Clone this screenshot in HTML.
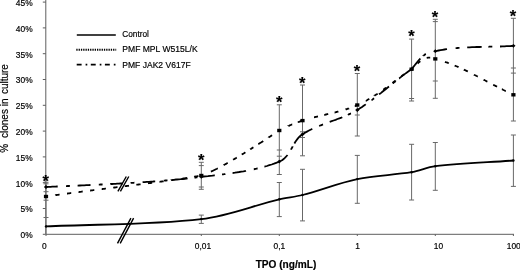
<!DOCTYPE html><html><head><meta charset="utf-8"><title>TPO chart</title><style>text{stroke:#000;stroke-width:.18px}html,body{margin:0;padding:0;background:#fff}body{width:520px;height:270px;position:relative;overflow:hidden}</style></head><body>
<svg width="520" height="270" viewBox="0 0 520 270" style="position:absolute;left:0;top:0;font-family:'Liberation Sans',sans-serif">
<rect width="520" height="270" fill="#fff"/>
<g stroke="#5e5e5e" stroke-width="1" fill="none">
<path d="M45.8 0V234.3"/>
<path d="M45.8 234.3H514"/>
<path d="M42.8 234.3H45.8"/>
<path d="M42.8 208.5H45.8"/>
<path d="M42.8 182.7H45.8"/>
<path d="M42.8 156.9H45.8"/>
<path d="M42.8 131.1H45.8"/>
<path d="M42.8 105.3H45.8"/>
<path d="M42.8 79.5H45.8"/>
<path d="M42.8 53.7H45.8"/>
<path d="M42.8 27.9H45.8"/>
<path d="M42.8 2.1H45.8"/>
<path d="M46.0 234.3v1.7"/>
<path d="M201.3 234.3v1.7"/>
<path d="M279.3 234.3v1.7"/>
<path d="M357.3 234.3v1.7"/>
<path d="M435.3 234.3v1.7"/>
<path d="M513.4 234.3v1.7"/>
</g>
<text x="32.6" y="238.2" font-size="8.4" text-anchor="end" fill="#000">0%</text>
<text x="32.6" y="212.4" font-size="8.4" text-anchor="end" fill="#000">5%</text>
<text x="32.6" y="186.6" font-size="8.4" text-anchor="end" fill="#000">10%</text>
<text x="32.6" y="160.8" font-size="8.4" text-anchor="end" fill="#000">15%</text>
<text x="32.6" y="135.0" font-size="8.4" text-anchor="end" fill="#000">20%</text>
<text x="32.6" y="109.2" font-size="8.4" text-anchor="end" fill="#000">25%</text>
<text x="32.6" y="83.4" font-size="8.4" text-anchor="end" fill="#000">30%</text>
<text x="32.6" y="57.6" font-size="8.4" text-anchor="end" fill="#000">35%</text>
<text x="32.6" y="31.8" font-size="8.4" text-anchor="end" fill="#000">40%</text>
<text x="32.6" y="6.0" font-size="8.4" text-anchor="end" fill="#000">45%</text>
<text x="44.3" y="249.2" font-size="8.4" text-anchor="middle" fill="#000">0</text>
<text x="203" y="249.2" font-size="8.4" text-anchor="middle" fill="#000">0,01</text>
<text x="279.3" y="249.2" font-size="8.4" text-anchor="middle" fill="#000">0,1</text>
<text x="357.5" y="249.2" font-size="8.4" text-anchor="middle" fill="#000">1</text>
<text x="438.5" y="249.2" font-size="8.4" text-anchor="middle" fill="#000">10</text>
<text x="513.8" y="249.2" font-size="8.4" text-anchor="middle" fill="#000">100</text>
<text x="286" y="267.7" font-size="10.2" font-weight="bold" textLength="60.6" lengthAdjust="spacingAndGlyphs" text-anchor="middle" fill="#000">TPO (ng/mL)</text>
<text transform="translate(7.8 108.35) rotate(-90) scale(1,1.09)" font-size="10" word-spacing="1.7" text-anchor="middle" fill="#000">% <tspan dx="1.3">clones</tspan><tspan dx="-1.6"> in</tspan> culture</text>
<g stroke="#686868" stroke-width="1" fill="none">
<path d="M46 182.3V234"/>
<path d="M43.5 182.3H48.5"/>
<path d="M43.5 183.8H48.5"/>
<path d="M43.5 191.7H48.5"/>
<path d="M43.5 200.2H48.5"/>
<path d="M43.5 217.5H48.5"/>
<path d="M201.3 162.3V189.3"/>
<path d="M198.8 162.3H203.8"/>
<path d="M198.8 165.6H203.8"/>
<path d="M198.8 187H203.8"/>
<path d="M198.8 189.3H203.8"/>
<path d="M201.3 215.1V223.4"/>
<path d="M198.8 215.1H203.8"/>
<path d="M198.8 223.4H203.8"/>
<path d="M279.3 104.8V174.5"/>
<path d="M276.8 104.8H281.8"/>
<path d="M276.8 150H281.8"/>
<path d="M276.8 156.2H281.8"/>
<path d="M276.8 174.5H281.8"/>
<path d="M279.3 182.5V216.6"/>
<path d="M276.8 182.5H281.8"/>
<path d="M276.8 216.6H281.8"/>
<path d="M302.5 85V155.8"/>
<path d="M300.0 85H305.0"/>
<path d="M300.0 131.8H305.0"/>
<path d="M300.0 137.5H305.0"/>
<path d="M300.0 155.8H305.0"/>
<path d="M302.5 169.3V220.9"/>
<path d="M300.0 169.3H305.0"/>
<path d="M300.0 220.9H305.0"/>
<path d="M357.3 73.5V136"/>
<path d="M354.8 73.5H359.8"/>
<path d="M354.8 115H359.8"/>
<path d="M354.8 136H359.8"/>
<path d="M357.3 155.4V203.3"/>
<path d="M354.8 155.4H359.8"/>
<path d="M354.8 203.3H359.8"/>
<path d="M411.6 39.1V101"/>
<path d="M409.1 39.1H414.1"/>
<path d="M409.1 98.5H414.1"/>
<path d="M409.1 101H414.1"/>
<path d="M411.6 144.3V200"/>
<path d="M409.1 144.3H414.1"/>
<path d="M409.1 200H414.1"/>
<path d="M435.3 19.3V98.3"/>
<path d="M432.8 19.3H437.8"/>
<path d="M432.8 21.6H437.8"/>
<path d="M432.8 81H437.8"/>
<path d="M432.8 98.3H437.8"/>
<path d="M435.3 142.5V190.3"/>
<path d="M432.8 142.5H437.8"/>
<path d="M432.8 190.3H437.8"/>
<path d="M513.4 18.3V121"/>
<path d="M510.9 18.3H515.9"/>
<path d="M510.9 68H515.9"/>
<path d="M510.9 73.1H515.9"/>
<path d="M510.9 121H515.9"/>
<path d="M513.4 135V186.4"/>
<path d="M510.9 135H515.9"/>
<path d="M510.9 186.4H515.9"/>
</g>
<path d="M46.00 226.40 C97.77 223.97 150.60 224.99 201.30 219.10 C228.37 215.96 253.13 205.53 279.30 199.30 C286.86 197.50 295.02 196.94 302.50 195.00 C321.02 190.20 338.44 183.04 357.30 179.10 C374.81 175.44 393.76 175.15 411.60 172.20 C419.76 170.85 427.05 167.15 435.30 166.20 C460.98 163.25 487.37 162.40 513.40 160.50" fill="none" stroke="#000" stroke-width="1.8"/>
<path d="M55.4 195.2L55.5 195.1L56.1 195.1L56.6 195.0L57.2 194.9L57.7 194.8L58.3 194.8L58.8 194.7L59.4 194.6L59.6 194.6 M67.0 193.6L67.2 193.6L67.7 193.5L68.3 193.4L68.9 193.3L69.4 193.3L70.0 193.2L70.6 193.1L71.1 193.0L71.2 193.0 M78.5 192.1L78.6 192.1L79.2 192.0L79.7 191.9L80.3 191.8L80.9 191.8L81.5 191.7L82.1 191.6L82.6 191.5L82.7 191.5 M90.1 190.6L90.2 190.6L90.8 190.5L91.4 190.4L92.0 190.3L92.6 190.3L93.2 190.2L93.8 190.1L94.3 190.1 M101.7 189.1L102.0 189.1L102.6 189.0L103.2 188.9L103.8 188.9L104.4 188.8L105.0 188.7L105.6 188.6L105.9 188.6 M113.2 187.7L113.8 187.6L114.4 187.5L115.0 187.5L115.6 187.4L116.2 187.3L116.7 187.2L117.3 187.2L117.5 187.2 M124.8 186.2L124.9 186.2L125.5 186.2L126.1 186.1L126.6 186.0L127.2 185.9L127.8 185.9L128.4 185.8L129.0 185.7L129.0 185.7 M136.4 184.8L136.9 184.7L137.5 184.6L138.1 184.6L138.6 184.5L139.2 184.4L139.8 184.4L140.3 184.3L140.6 184.3 M148.0 183.3L148.0 183.3L148.6 183.2L149.1 183.2L149.7 183.1L150.2 183.0L150.8 183.0L151.3 182.9L151.8 182.8L152.2 182.8 M159.5 181.8L159.7 181.8L160.2 181.7L160.8 181.7L161.3 181.6L161.8 181.5L162.3 181.4L162.8 181.4L163.3 181.3L163.7 181.3 M171.1 180.3L171.2 180.2L171.7 180.2L172.1 180.1L172.6 180.0L173.1 180.0L173.6 179.9L174.0 179.8L174.5 179.8L175.0 179.7L175.3 179.7 M182.7 178.6L183.0 178.5L183.4 178.5L183.8 178.4L184.2 178.4L184.7 178.3L185.1 178.2L185.5 178.2L185.9 178.1L186.3 178.0L186.7 178.0L186.9 178.0 M194.2 176.8L194.4 176.7L195.1 176.6L195.8 176.5L196.5 176.4L197.2 176.3L197.8 176.1L198.4 176.0 M210.9 171.6L210.9 171.6L211.9 171.2L212.9 170.7L213.9 170.2L214.9 169.7L215.9 169.2L217.0 168.7L217.8 168.3 M223.6 165.2L223.7 165.1L224.3 164.8L224.8 164.5L225.4 164.2L226.0 163.9L226.5 163.5L227.1 163.2L227.7 162.9L227.7 162.9 M233.1 159.8L233.4 159.6L233.9 159.3L234.5 158.9L235.1 158.6L235.7 158.3L236.2 157.9L236.8 157.6 M241.7 154.6L241.7 154.6L242.3 154.2L242.9 153.9L243.5 153.5L244.1 153.2L244.6 152.8L245.2 152.5L245.4 152.3 M250.2 149.4L250.4 149.2L250.7 149.1L251.0 148.9L251.2 148.7L251.5 148.5L251.8 148.3L252.1 148.2L252.4 148.0L252.7 147.8L252.9 147.6L253.2 147.4L253.4 147.3 M258.3 144.2L258.5 144.1L259.3 143.5L260.1 143.0L261.0 142.5L261.8 142.0L262.6 141.5L263.2 141.0 M268.7 137.5L268.7 137.4L269.2 137.1L269.7 136.8L270.2 136.5L270.7 136.2L271.1 135.8L271.6 135.5L272.1 135.2L272.1 135.2 M288.3 126.1L288.3 126.0L289.0 125.8L289.6 125.5L290.2 125.2L290.8 125.0L291.4 124.7L292.1 124.4L292.2 124.4 M297.8 122.2L297.9 122.2L298.4 122.0L299.0 121.8L299.6 121.6L300.1 121.4L300.7 121.2L301.3 121.0L301.4 121.0 M314.0 117.3L314.1 117.3L314.6 117.2L315.2 117.0L315.8 116.9L316.3 116.8L316.9 116.6L317.5 116.5L318.0 116.4 M324.2 114.9L324.3 114.9L324.9 114.8L325.4 114.6L326.0 114.5L326.6 114.4L327.1 114.2L327.7 114.1L328.2 114.0 M334.6 112.5L334.7 112.5L335.3 112.3L335.8 112.2L336.4 112.0L337.0 111.9L337.5 111.7L338.1 111.6L338.4 111.5 M345.6 109.5L345.7 109.4L346.3 109.3L346.8 109.1L347.3 108.9L347.9 108.7L348.4 108.6L348.9 108.4L349.0 108.3 M354.8 106.1L354.9 106.1L355.2 106.0L355.5 105.8L355.8 105.7L356.2 105.5L356.5 105.4L356.8 105.2L357.1 105.1L357.3 105.0 M365.8 100.8L365.9 100.8L366.5 100.5L367.0 100.2L367.6 99.8L368.1 99.5L368.7 99.2L369.3 98.9L369.3 98.9 M374.5 95.7L374.5 95.6L375.1 95.3L375.6 94.9L376.2 94.6L376.7 94.2L377.2 93.9L377.6 93.6 M383.2 89.7L383.4 89.6L383.7 89.4L384.1 89.1L384.4 88.9L384.8 88.6L385.1 88.4L385.5 88.1L385.8 87.9L386.2 87.6L386.2 87.6 M392.4 83.0L392.6 82.9L392.9 82.6L393.3 82.3L393.6 82.1L394.0 81.8L394.3 81.6L394.7 81.3L395.0 81.0L395.4 80.8L395.4 80.7 M401.3 76.4L401.3 76.4L401.7 76.1L402.1 75.8L402.4 75.6L402.8 75.3L403.1 75.1L403.5 74.8L403.9 74.5L404.2 74.3 M417.6 63.5L417.6 63.5L418.1 63.1L418.5 62.7L418.9 62.3L419.4 62.0L419.8 61.6L420.2 61.3L420.4 61.2 M426.7 57.9L426.7 57.9L427.3 57.8L427.8 57.7L428.4 57.6L429.0 57.6L429.6 57.6L430.2 57.6L430.2 57.6 M445.0 61.8L445.2 61.9L445.7 62.1L446.3 62.3L446.8 62.4L447.3 62.6L447.8 62.8L448.4 63.0L448.9 63.2L448.9 63.2 M454.7 65.5L454.9 65.6L455.4 65.8L455.9 66.0L456.4 66.3L457.0 66.5L457.5 66.7L458.0 66.9L458.5 67.2 M463.9 69.6L464.0 69.7L464.5 69.9L465.0 70.2L465.5 70.4L466.1 70.7L466.6 70.9L467.1 71.2L467.6 71.4L467.8 71.5 M474.0 74.6L474.1 74.7L474.6 75.0L475.2 75.2L475.7 75.5L476.2 75.8L476.7 76.0L477.2 76.3L477.8 76.6L477.8 76.6 M483.6 79.6L483.7 79.7L484.3 80.0L484.8 80.3L485.3 80.5L485.8 80.8L486.3 81.1L486.9 81.4L487.4 81.6L487.4 81.6 M493.2 84.7L493.4 84.8L493.9 85.1L494.4 85.3L494.9 85.6L495.4 85.9L496.0 86.2L496.5 86.4L497.0 86.7 M501.9 89.2L502.0 89.2L502.5 89.5L503.0 89.8L503.5 90.0L504.0 90.3L504.6 90.5L505.1 90.8L505.6 91.1L505.7 91.1" fill="none" stroke="#000" stroke-width="1.8"/>
<path d="M46.0 187.0L46.0 187.0L47.6 186.9L49.1 186.9L50.7 186.8L52.2 186.7L53.8 186.6L55.4 186.6L57.0 186.5L57.7 186.5 M66.0 186.1L66.5 186.1L67.0 186.1L67.6 186.0L68.1 186.0L68.6 186.0L69.2 186.0L69.7 185.9L69.9 185.9 M77.6 185.6L77.7 185.6L79.9 185.5L82.0 185.4L84.2 185.3L86.3 185.2L88.5 185.1L90.5 185.0 M98.8 184.6L99.3 184.6L99.8 184.6L100.4 184.5L100.9 184.5L101.4 184.5L102.0 184.5L102.5 184.4L102.6 184.4 M110.3 184.1L110.6 184.0L112.2 184.0L113.9 183.9L115.5 183.8L117.1 183.7L118.7 183.6L120.3 183.5L121.9 183.5L122.9 183.4 M130.6 183.0L131.0 182.9L131.5 182.9L132.1 182.9L132.6 182.8L133.1 182.8L133.7 182.8L134.2 182.7L134.4 182.7 M142.6 182.2L142.6 182.2L144.7 182.1L146.8 181.9L148.9 181.8L151.0 181.6L153.1 181.5L155.1 181.3L155.2 181.3 M164.0 180.7L164.3 180.6L164.8 180.6L165.3 180.5L165.8 180.5L166.3 180.5L166.8 180.4L167.3 180.4L167.5 180.4 M174.8 179.7L174.8 179.7L176.8 179.5L178.7 179.3L180.7 179.2L182.6 179.0L184.6 178.8L186.5 178.6L187.6 178.4 M194.5 177.6L194.9 177.6L195.4 177.5L195.8 177.5L196.3 177.4L196.8 177.4L197.2 177.3L197.4 177.3 M201.3 176.8L201.6 176.8L203.7 176.5L205.8 176.3L208.0 176.1L210.2 175.8L212.4 175.6L214.5 175.3L214.8 175.3 M222.0 174.4L222.2 174.4L222.8 174.3L223.3 174.3L223.9 174.2L224.4 174.1L225.0 174.1L225.4 174.0 M232.6 173.0L232.7 173.0L234.9 172.7L237.0 172.3L239.2 172.0L241.4 171.6L243.5 171.3L245.7 170.9L246.0 170.8 M253.8 169.3L253.9 169.3L254.4 169.1L254.9 169.0L255.4 168.9L255.9 168.8L256.4 168.7L257.0 168.6L257.5 168.4L257.6 168.4 M264.4 166.7L264.5 166.7L266.9 166.0L269.3 165.2L271.7 164.5L274.0 163.7L276.2 162.8L278.4 162.0L279.3 161.6 M279.3 161.6L279.4 161.5L281.0 160.8L282.5 159.9L283.9 158.8L285.1 157.7L286.2 156.5L287.3 155.3L287.5 155.0 M291.0 149.5L291.0 149.4L291.3 149.0L291.5 148.6L291.7 148.2L292.0 147.7L292.2 147.3L292.4 146.9L292.7 146.5L292.7 146.4 M294.4 143.4L294.4 143.4L295.4 141.8L296.5 140.2L297.7 138.6L299.0 137.2L300.5 135.8L302.1 134.6L302.5 134.3 M302.5 134.3L302.7 134.2L304.1 133.3L305.5 132.4L307.0 131.6L308.5 130.8L310.0 130.0L311.6 129.2L312.3 128.9 M319.1 126.0L319.1 126.0L319.7 125.8L320.2 125.5L320.8 125.3L321.4 125.1L322.0 124.9L322.5 124.6L323.0 124.4 M329.7 121.9L329.7 121.9L331.7 121.2L333.6 120.5L335.6 119.8L337.5 119.0L339.4 118.3L341.4 117.6L342.3 117.2 M348.0 114.8L348.1 114.7L348.5 114.6L348.8 114.4L349.2 114.2L349.6 114.1L349.9 113.9L350.3 113.7L350.6 113.5L351.0 113.4L351.0 113.4 M357.3 110.0L357.5 109.9L358.9 109.0L360.3 108.1L361.7 107.2L363.0 106.3L364.4 105.3L365.7 104.4L365.8 104.3 M371.6 100.1L371.7 100.1L372.1 99.8L372.5 99.5L372.8 99.2L373.2 98.9L373.6 98.7L373.9 98.4L374.1 98.3 M379.1 94.4L379.2 94.3L380.8 93.1L382.4 91.8L384.0 90.5L385.6 89.2L387.1 88.0L388.7 86.7L389.0 86.5 M393.0 83.2L393.1 83.2L393.4 82.9L393.8 82.6L394.1 82.3L394.5 82.1L394.8 81.8L395.2 81.5L395.5 81.2L395.6 81.2 M399.1 78.4L399.2 78.4L401.1 76.9L403.0 75.4L405.0 73.9L406.9 72.5L408.9 71.1L410.9 69.7L411.6 69.2 M411.6 69.2L411.7 69.1L413.2 67.1L414.7 65.2L416.2 63.4L417.5 61.7L418.9 60.1L420.3 58.6L420.4 58.5 M423.3 55.8L423.3 55.7L423.7 55.5L424.1 55.2L424.4 54.9L424.8 54.6L425.2 54.4L425.6 54.1L425.9 54.0 M435.0 51.2L435.1 51.2L436.7 50.9L438.6 50.5L440.5 50.1L442.5 49.8L444.4 49.5L446.4 49.2L447.0 49.1 M455.6 48.2L455.8 48.2L456.3 48.1L456.8 48.1L457.3 48.0L457.8 48.0L458.4 47.9L458.9 47.9L459.4 47.9L459.5 47.9 M467.2 47.4L467.3 47.4L469.6 47.3L472.0 47.2L474.4 47.1L476.8 47.0L479.3 47.0L481.7 46.9L481.7 46.9 M488.4 46.8L488.7 46.8L489.2 46.7L489.7 46.7L490.3 46.7L490.8 46.7L491.4 46.7L491.9 46.7L492.3 46.7 M500.0 46.5L500.2 46.5L502.3 46.4L504.5 46.3L506.6 46.2L508.7 46.1L510.8 46.0L512.9 45.8L513.4 45.8" fill="none" stroke="#000" stroke-width="1.8"/>
<rect x="43.9" y="194.8" width="4.2" height="3.4" fill="#000"/>
<rect x="199.2" y="173.8" width="4.2" height="3.4" fill="#000"/>
<rect x="277.2" y="128.8" width="4.2" height="3.4" fill="#000"/>
<rect x="300.4" y="118.9" width="4.2" height="3.4" fill="#000"/>
<rect x="355.2" y="103.3" width="4.2" height="3.4" fill="#000"/>
<rect x="409.5" y="67.5" width="4.2" height="3.4" fill="#000"/>
<rect x="433.2" y="57.2" width="4.2" height="3.4" fill="#000"/>
<rect x="511.3" y="93.1" width="4.2" height="3.4" fill="#000"/>
<path d="M43.9 187L46 185.1L48.1 187L46 188.9Z" fill="#000"/>
<path d="M199.2 176.8L201.3 174.9L203.4 176.8L201.3 178.7Z" fill="#000"/>
<path d="M277.2 161.6L279.3 159.7L281.4 161.6L279.3 163.5Z" fill="#000"/>
<path d="M300.4 134.3L302.5 132.4L304.6 134.3L302.5 136.2Z" fill="#000"/>
<path d="M355.2 110L357.3 108.1L359.4 110L357.3 111.9Z" fill="#000"/>
<path d="M409.5 69.2L411.6 67.3L413.7 69.2L411.6 71.1Z" fill="#000"/>
<path d="M433.2 51.2L435.3 49.3L437.4 51.2L435.3 53.1Z" fill="#000"/>
<path d="M511.3 45.8L513.4 43.9L515.5 45.8L513.4 47.7Z" fill="#000"/>
<circle cx="46" cy="226.4" r="1.2" fill="#000"/>
<circle cx="201.3" cy="219.1" r="1.2" fill="#000"/>
<circle cx="279.3" cy="199.3" r="1.2" fill="#000"/>
<circle cx="302.5" cy="195" r="1.2" fill="#000"/>
<circle cx="357.3" cy="179.1" r="1.2" fill="#000"/>
<circle cx="411.6" cy="172.2" r="1.2" fill="#000"/>
<circle cx="435.3" cy="166.2" r="1.2" fill="#000"/>
<circle cx="513.4" cy="160.5" r="1.2" fill="#000"/>
<g stroke="#000" stroke-width="1.4" fill="none">
<path d="M117.9 191.3L126.3 176.5M120.4 191.3L128.8 176.5"/>
<path d="M117.5 243.3L130.9 218.1M120.2 243.3L133.6 218.1"/>
</g>
<text x="45.7" y="187.0" font-size="16.5" font-weight="bold" text-anchor="middle" fill="#000">*</text>
<text x="201.1" y="166.2" font-size="16.5" font-weight="bold" text-anchor="middle" fill="#000">*</text>
<text x="279.1" y="108.4" font-size="16.5" font-weight="bold" text-anchor="middle" fill="#000">*</text>
<text x="302.2" y="88.5" font-size="16.5" font-weight="bold" text-anchor="middle" fill="#000">*</text>
<text x="357" y="76.5" font-size="16.5" font-weight="bold" text-anchor="middle" fill="#000">*</text>
<text x="411.4" y="42.2" font-size="16.5" font-weight="bold" text-anchor="middle" fill="#000">*</text>
<text x="435" y="22.6" font-size="16.5" font-weight="bold" text-anchor="middle" fill="#000">*</text>
<text x="513" y="22.4" font-size="16.5" font-weight="bold" text-anchor="middle" fill="#000">*</text>
<g stroke="#000" fill="none">
<path d="M76.8 35H115.8" stroke-width="1.6"/>
<path d="M76.3 49.8H116.2" stroke-width="1.9" stroke-dasharray="1.3 1"/>
<path d="M76.7 64.6H115.8" stroke-width="1.7" stroke-dasharray="4.9 4 1.7 3.5"/>
</g>
<text x="122.3" y="37.2" font-size="8.5" textLength="26.6" lengthAdjust="spacingAndGlyphs" fill="#000">Control</text>
<text x="122.3" y="52.2" font-size="8.5" textLength="75.3" lengthAdjust="spacingAndGlyphs" fill="#000">PMF MPL W515L/K</text>
<text x="122.3" y="67.5" font-size="8.5" textLength="68.3" lengthAdjust="spacingAndGlyphs" fill="#000">PMF JAK2 V617F</text>
</svg>
</body></html>
